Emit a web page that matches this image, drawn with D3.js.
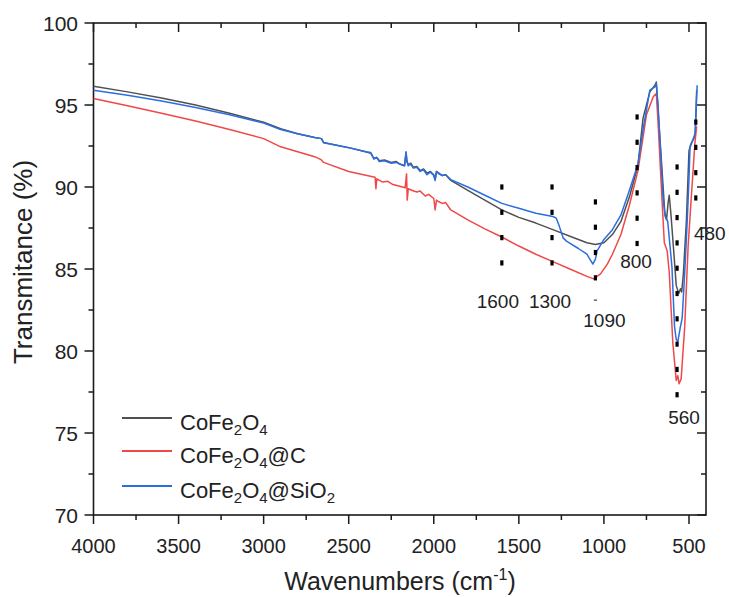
<!DOCTYPE html>
<html><head><meta charset="utf-8">
<script src="https://cdn.jsdelivr.net/npm/d3@7"></script>
<style>body{margin:0;background:#fff}svg{display:block;font-family:Arial,"Liberation Sans",sans-serif}</style>
</head><body><svg id="c" width="729" height="597"></svg>
<script>
// ---- data (wavenumber cm-1, transmittance %) ----
const cofe2o4 = [[4000,96.15],[3800,95.8],[3600,95.42],[3400,95.0],[3200,94.5],[3000,93.95],[2900,93.55],[2800,93.25],[2700,93.02],[2660,92.95],[2648,92.72],[2500,92.4],[2400,92.15],[2370,92.05],[2352,91.75],[2335,91.8],[2320,91.6],[2290,91.65],[2250,91.5],[2220,91.55],[2200,91.4],[2172,91.3],[2163,92.1],[2158,91.6],[2150,91.35],[2135,91.45],[2120,91.2],[2100,91.25],[2080,91.0],[2060,91.1],[2040,90.85],[2020,90.95],[2000,90.75],[1992,90.45],[1984,90.95],[1970,90.85],[1950,90.7],[1930,90.75],[1900,90.4],[1800,89.8],[1700,89.2],[1600,88.6],[1500,88.15],[1400,87.8],[1300,87.4],[1200,87.0],[1100,86.6],[1050,86.5],[1000,86.6],[950,87.1],[900,87.9],[850,89.4],[800,91.3],[770,94.2],[730,95.8],[700,96.2],[692,96.4],[682,94.7],[662,91.6],[642,88.4],[632,88.0],[622,89.1],[616,89.5],[605,88.2],[592,86.4],[575,84.0],[560,83.5],[550,83.8],[543,83.6],[533,84.7],[515,88.0],[500,92.2],[490,92.6],[470,93.0],[462,93.4],[455,95.9]];
const cofe2o4C = [[4000,95.4],[3800,94.95],[3600,94.5],[3400,94.02],[3200,93.5],[3000,92.95],[2900,92.45],[2800,92.15],[2700,91.85],[2660,91.65],[2648,91.5],[2500,90.95],[2400,90.72],[2345,90.6],[2340,89.9],[2335,90.5],[2300,90.3],[2270,90.35],[2240,90.15],[2200,90.05],[2168,89.95],[2160,90.8],[2156,89.2],[2150,89.9],[2130,89.8],[2100,89.7],[2080,89.75],[2050,89.45],[2030,89.55],[2000,89.3],[1992,88.6],[1984,89.2],[1970,89.1],[1950,89.0],[1930,89.05],[1900,88.6],[1800,88.0],[1700,87.45],[1600,86.95],[1500,86.4],[1400,85.9],[1300,85.45],[1200,85.0],[1100,84.55],[1060,84.4],[1020,84.7],[980,85.3],[950,85.9],[900,87.1],[850,88.9],[800,91.0],[750,94.4],[710,95.5],[692,95.7],[682,94.0],[664,90.3],[645,86.6],[628,86.1],[616,84.8],[595,80.5],[575,78.2],[566,78.5],[558,78.0],[546,78.3],[525,81.5],[505,86.4],[485,89.6],[465,92.7],[455,93.7]];
const cofe2o4SiO2 = [[4000,95.9],[3800,95.6],[3600,95.25],[3400,94.85],[3200,94.4],[3000,93.9],[2900,93.5],[2800,93.25],[2700,93.02],[2660,92.95],[2648,92.7],[2500,92.4],[2400,92.15],[2370,92.1],[2352,91.7],[2335,91.8],[2320,91.55],[2290,91.6],[2250,91.45],[2220,91.5],[2200,91.4],[2172,91.3],[2163,92.15],[2158,91.55],[2150,91.3],[2135,91.4],[2120,91.15],[2100,91.2],[2080,90.95],[2060,91.05],[2040,90.75],[2020,90.9],[2000,90.7],[1992,90.4],[1984,90.95],[1970,90.8],[1950,90.7],[1930,90.75],[1900,90.45],[1800,90.0],[1700,89.5],[1600,89.0],[1500,88.7],[1400,88.4],[1300,88.2],[1280,88.1],[1262,87.6],[1240,86.9],[1220,86.7],[1150,86.25],[1100,85.9],[1080,85.55],[1065,85.3],[1050,85.6],[1040,86.1],[1000,86.8],[950,87.4],[900,88.3],[850,89.8],[800,91.4],[770,93.5],[730,95.9],[700,96.1],[692,96.3],[682,95.0],[670,92.7],[652,89.3],[640,88.2],[625,87.9],[615,86.8],[600,85.1],[585,81.5],[575,80.7],[565,80.6],[550,81.5],[540,82.0],[525,84.8],[510,88.0],[500,90.5],[494,92.4],[480,92.8],[465,93.2],[457,95.0],[452,96.2]];
const seriesNames = ["CoFe2O4", "CoFe2O4@C", "CoFe2O4@SiO2"];
const xTicks = [4000,3500,3000,2500,2000,1500,1000,500];
const yTicks = [70,75,80,85,90,95,100];
// peak markers: wavenumber of dotted line, top dot (%), dot count, label
const markWN = [1600,1305,1050,805,570,460];
const markTop = [90.0,90.0,89.09,94.27,91.22,93.96];
const markCount = [4,4,4,6,10,4];
const markLabels = ["1600","1300","1090","800","560","480"];

// ---- layout ----
const svg = d3.select("#c");
const M = {l:93.5, r:706, t:23, b:515};
const x = d3.scaleLinear().domain([4000,400]).range([M.l,M.r]);
const y = d3.scaleLinear().domain([70,100]).range([M.b,M.t]);
const colors = ["#505050","#f04848","#2a6ee0"];
const axisCol = "#1a1a1a";

svg.append("rect").attr("x",M.l).attr("y",M.t).attr("width",M.r-M.l).attr("height",M.b-M.t)
  .attr("fill","none").attr("stroke",axisCol).attr("stroke-width",1.6);

const xMinor = d3.range(3750,400,-500);
const yMinor = d3.range(72.5,100,5);
const g = svg.append("g").attr("stroke",axisCol).attr("stroke-width",1.5);
xTicks.forEach(v=>{g.append("line").attr("x1",x(v)).attr("x2",x(v)).attr("y1",M.b).attr("y2",M.b+9);
  g.append("line").attr("x1",x(v)).attr("x2",x(v)).attr("y1",M.t).attr("y2",M.t+9);});
xMinor.forEach(v=>{g.append("line").attr("x1",x(v)).attr("x2",x(v)).attr("y1",M.b).attr("y2",M.b+5);
  g.append("line").attr("x1",x(v)).attr("x2",x(v)).attr("y1",M.t).attr("y2",M.t+5);});
yTicks.forEach(v=>{g.append("line").attr("y1",y(v)).attr("y2",y(v)).attr("x1",M.l-9).attr("x2",M.l);
  g.append("line").attr("y1",y(v)).attr("y2",y(v)).attr("x1",M.r-9).attr("x2",M.r);});
yMinor.forEach(v=>{g.append("line").attr("y1",y(v)).attr("y2",y(v)).attr("x1",M.l-5).attr("x2",M.l);
  g.append("line").attr("y1",y(v)).attr("y2",y(v)).attr("x1",M.r-5).attr("x2",M.r);});

svg.append("g").selectAll("text").data(xTicks).join("text")
  .attr("x",d=>x(d)).attr("y",553).attr("text-anchor","middle").attr("font-size",20).attr("fill","#222").text(d=>d);
svg.append("g").selectAll("text").data(yTicks).join("text")
  .attr("x",78).attr("y",d=>y(d)+7.5).attr("text-anchor","end").attr("font-size",21).attr("fill","#222").text(d=>d);

const xt = svg.append("text").attr("x",400).attr("y",590).attr("text-anchor","middle").attr("font-size",25).attr("fill","#222");
xt.append("tspan").text("Wavenumbers (cm");
xt.append("tspan").attr("font-size",16).attr("dy",-10).text("-1");
xt.append("tspan").attr("dy",10).text(")");
svg.append("text").attr("transform","translate(32,262) rotate(-90)").attr("text-anchor","middle")
  .attr("font-size",26).attr("fill","#222").text("Transmitance (%)");

const line = d3.line().x(d=>x(d[0])).y(d=>y(d[1]));
[cofe2o4,cofe2o4C,cofe2o4SiO2].forEach((s,i)=>{
  svg.append("path").datum(s).attr("d",line).attr("fill","none").attr("stroke",colors[i])
    .attr("stroke-width",1.5).attr("stroke-linejoin","round");
});

const step = 1.543;
const labelPos = [[-4,308],[-2,308],[9,327],[-1,268],[7,424],[14,240]];
markWN.forEach((w,i)=>{
  const vals = d3.range(markCount[i]).map(k=>markTop[i]-k*step);
  svg.append("g").selectAll("rect").data(vals).join("rect")
    .attr("x",x(w)-1.6).attr("y",d=>y(d)-2.6).attr("width",3.2).attr("height",5.2).attr("fill","#000");
  svg.append("text").attr("x",x(w)+labelPos[i][0]).attr("y",labelPos[i][1]).attr("text-anchor","middle")
    .attr("font-size",19).attr("fill","#222").text(markLabels[i]);
});
svg.append("rect").attr("x",x(1050)-1.5).attr("y",y(83.1)-0.7).attr("width",3).attr("height",1.4).attr("fill","#555");

const legY = [418,451,486];
const legParts = [
  [["CoFe",0],["2",1],["O",0],["4",1]],
  [["CoFe",0],["2",1],["O",0],["4",1],["@C",0]],
  [["CoFe",0],["2",1],["O",0],["4",1],["@SiO",0],["2",1]]
];
seriesNames.forEach((n,i)=>{
  svg.append("line").attr("x1",122).attr("x2",172).attr("y1",legY[i]).attr("y2",legY[i])
    .attr("stroke",colors[i]).attr("stroke-width",1.8);
  const t = svg.append("text").attr("x",180).attr("y",legY[i]+12).attr("font-size",22).attr("fill","#222");
  let sub = 0;
  legParts[i].forEach(p=>{
    const ts = t.append("tspan").text(p[0]);
    if(p[1] && !sub){ts.attr("font-size",15).attr("dy",5); sub=1;}
    else if(!p[1] && sub){ts.attr("dy",-5); sub=0;}
    else if(p[1]) ts.attr("font-size",15);
  });
});
</script></body></html>
